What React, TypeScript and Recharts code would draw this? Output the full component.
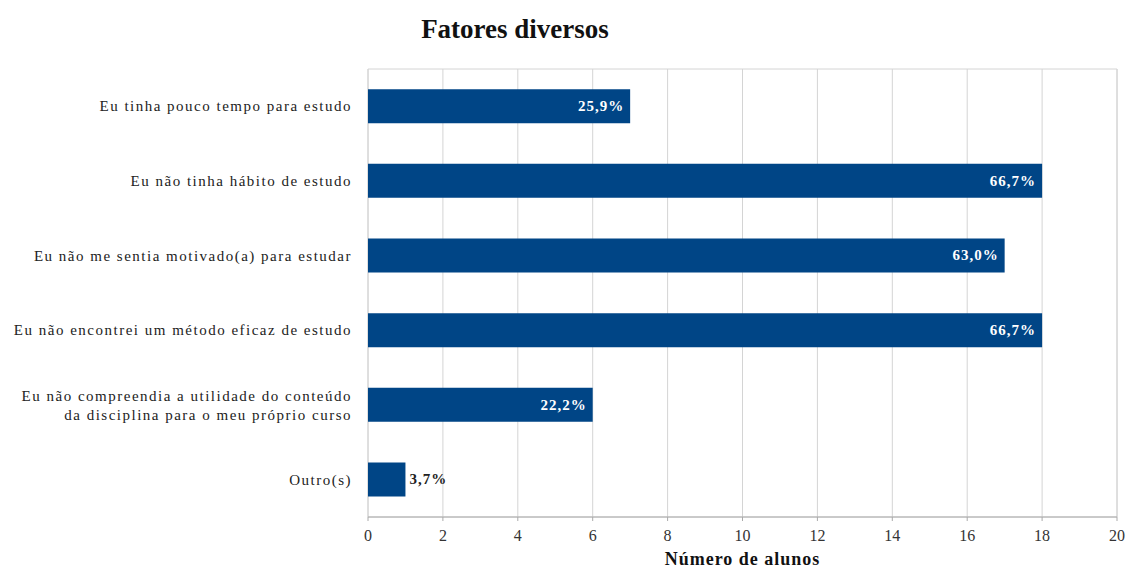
import { BarChart, Bar, XAxis, YAxis, CartesianGrid, LabelList, ReferenceArea } from "recharts";

const CATEGORIES = [
  "Eu tinha pouco tempo para estudo",
  "Eu não tinha hábito de estudo",
  "Eu não me sentia motivado(a) para estudar",
  "Eu não encontrei um método eficaz de estudo",
  "Eu não compreendia a utilidade do conteúdo\nda disciplina para o meu próprio curso",
  "Outro(s)",
];
const ALUNOS = [7, 18, 17, 18, 6, 1];
const PERCENTS = ["25,9%", "66,7%", "63,0%", "66,7%", "22,2%", "3,7%"];
const X_TICKS = [0, 2, 4, 6, 8, 10, 12, 14, 16, 18, 20];

const data = CATEGORIES.map((name, i) => ({ name, value: ALUNOS[i], pct: PERCENTS[i] }));

const FONT = "'Liberation Serif', 'DejaVu Serif', serif";
const BLUE = "#004586";

function CategoryTick(props: any) {
  const { x, y, payload } = props;
  const lines = String(payload.value).split("\n");
  const lh = 19;
  const start = -((lines.length - 1) * lh) / 2;
  return (
    <text x={x} y={y} textAnchor="end" fontFamily={FONT} fontSize={15} letterSpacing={1.5} fill="#222">
      {lines.map((l, i) => (
        <tspan key={i} x={x} dy={i === 0 ? start + 5 : lh}>
          {l}
        </tspan>
      ))}
    </text>
  );
}

function PctLabel(props: any) {
  const { x, y, width, height, index } = props;
  const inside = ALUNOS[index] > 2;
  const cy = y + height / 2 + 5;
  return inside ? (
    <text x={x + width - 6} y={cy} textAnchor="end" fontFamily={FONT} fontSize={15} letterSpacing={1} fontWeight="bold" fill="#fff">
      {PERCENTS[index]}
    </text>
  ) : (
    <text x={x + width + 4} y={cy} textAnchor="start" fontFamily={FONT} fontSize={15} letterSpacing={1} fontWeight="bold" fill="#222">
      {PERCENTS[index]}
    </text>
  );
}

export default function App() {
  return (
    <div style={{ position: "absolute", left: 0, top: 0, width: 1134, height: 568, background: "#fff", fontFamily: FONT }}>
      <div
        style={{
          position: "absolute",
          left: 0,
          width: 1030,
          top: 14,
          textAlign: "center",
          fontSize: 27,
          fontWeight: "bold",
          color: "#111",
        }}
      >
        Fatores diversos
      </div>
      <BarChart
        width={1134}
        height={568}
        data={data}
        layout="vertical"
        margin={{ top: 69, right: 17, bottom: 0, left: 0 }}
        barCategoryGap="27%"
      >
        <CartesianGrid horizontal={false} stroke="#d4d4d4" />
        <ReferenceArea x1={0} x2={20} fill="none" stroke="#d4d4d4" strokeOpacity={1} fillOpacity={0} />
        <XAxis
          type="number"
          domain={[0, 20]}
          ticks={X_TICKS}
          height={51}
          stroke="#aaa"
          tickSize={4}
          tickMargin={9}
          tick={{ fontFamily: FONT, fontSize: 16, fill: "#333" }}
          label={{
            value: "Número de alunos",
            position: "insideBottom",
            offset: 3,
            style: { fontFamily: FONT, fontSize: 18, letterSpacing: 1, fontWeight: "bold", fill: "#111" },
          }}
        />
        <YAxis
          type="category"
          dataKey="name"
          width={368}
          axisLine={false}
          tickLine={false}
          tickMargin={10}
          tick={<CategoryTick />}
        />
        <Bar dataKey="value" fill={BLUE} isAnimationActive={false}>
          <LabelList dataKey="pct" content={<PctLabel />} />
        </Bar>
      </BarChart>
    </div>
  );
}
